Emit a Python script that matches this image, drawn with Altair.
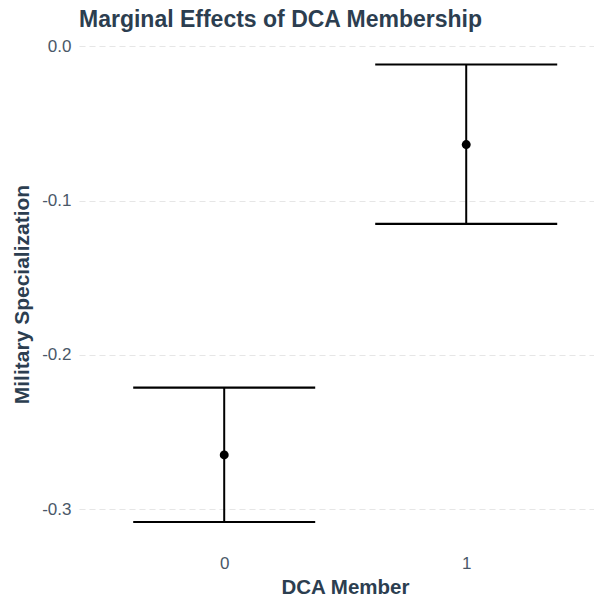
import altair as alt
import pandas as pd

dca_member = [0, 1]
estimate = [-0.2649, -0.0636]
lower = [-0.3084, -0.1151]
upper = [-0.2212, -0.0117]

df = pd.DataFrame({"dca": dca_member, "est": estimate, "lo": lower, "hi": upper})

TITLE_C = "#2C3E50"
LABEL_C = "#4A5868"
FONT = "Liberation Sans"

xscale = alt.Scale(domain=[-0.6, 1.528], nice=False, zero=False)
yscale = alt.Scale(domain=[-0.3233, 0.0029], nice=False, zero=False)

xaxis = alt.Axis(values=[0, 1], format="d", grid=False, labelPadding=10,
                 title="DCA Member", titleBaseline="alphabetic", titleX=266, titleY=48)
yaxis = alt.Axis(values=[0.0, -0.1, -0.2, -0.3], grid=True, gridColor="#E6E6E6",
                 gridDash=[6, 4], gridWidth=1.2, labelPadding=8,
                 labelExpr="datum.value == 0 ? '0.0' : '-' + format(abs(datum.value), '.1f')",
                 title="Military Specialization", titleAngle=-90, titleFontSize=21,
                 titleBaseline="alphabetic", titleX=-50.5, titleY=252)

base = alt.Chart(df)

bars = base.mark_rule(color="black", strokeWidth=2).encode(
    x=alt.X("dca:Q", scale=xscale, axis=xaxis),
    y=alt.Y("lo:Q", scale=yscale, axis=yaxis),
    y2="hi:Q",
)
cap_lo = base.mark_tick(color="black", orient="horizontal", size=182, thickness=2.2, opacity=1).encode(
    x=alt.X("dca:Q", scale=xscale), y=alt.Y("lo:Q", scale=yscale)
)
cap_hi = base.mark_tick(color="black", orient="horizontal", size=182, thickness=2.2, opacity=1).encode(
    x=alt.X("dca:Q", scale=xscale), y=alt.Y("hi:Q", scale=yscale)
)
pts = base.mark_point(filled=True, color="black", size=80, opacity=1).encode(
    x=alt.X("dca:Q", scale=xscale), y=alt.Y("est:Q", scale=yscale)
)

chart = alt.layer(bars, cap_lo, cap_hi, pts).properties(
    width=515, height=503,
    title=alt.Title("Marginal Effects of DCA Membership", anchor="start", frame="group",
                    fontSize=23, font=FONT, fontWeight="bold", color=TITLE_C,
                    baseline="alphabetic", offset=0, dy=13),
    autosize=alt.AutoSizeParams(type="none"),
    padding={"left": 71, "top": 34, "right": 0, "bottom": 51},
).configure(background="white").configure_view(stroke=None).configure_axis(
    domain=False, ticks=False, labelFontSize=17, labelColor=LABEL_C, labelFont=FONT,
    titleFontSize=20.5, titleFont=FONT, titleFontWeight="bold", titleColor=TITLE_C,
)

chart.save("out.html", embed_options={"renderer": "svg", "actions": False})
